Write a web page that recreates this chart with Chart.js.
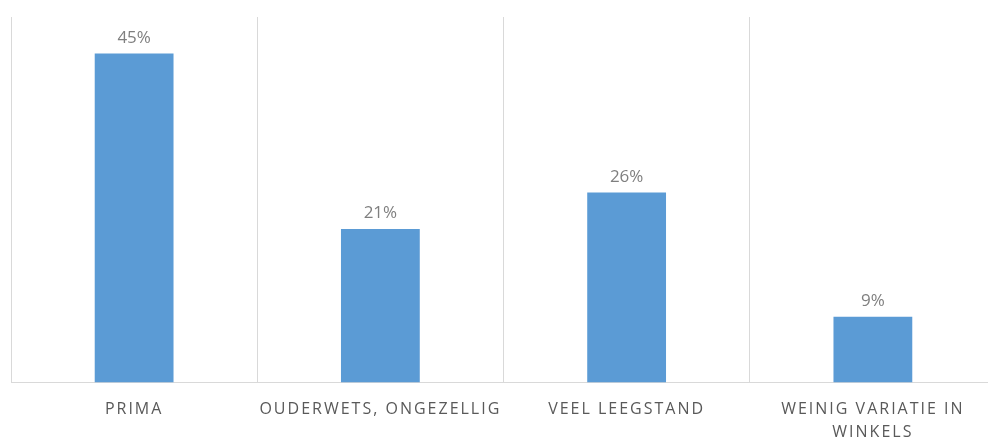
<!DOCTYPE html>
<html>
<head>
<meta charset="utf-8">
<script src="https://cdn.jsdelivr.net/npm/chart.js@4/dist/chart.umd.min.js"></script>
<style>
  html, body { margin: 0; padding: 0; background: #fff; overflow: hidden; }
  #wrap { width: 1000px; height: 459px; position: relative; }
</style>
</head>
<body>
<div id="wrap"><canvas id="c"></canvas></div>
<script>
const categories = ['PRIMA', 'OUDERWETS, ONGEZELLIG', 'VEEL LEEGSTAND', ['WEINIG VARIATIE IN', 'WINKELS']];
const values = [45, 21, 26, 9];
const valueLabels = ['45%', '21%', '26%', '9%'];

const spacingPlugin = {
  id: 'spacing',
  beforeDraw(chart) { chart.ctx.letterSpacing = '2px'; },
  afterDatasetsDraw(chart) {
    const ctx = chart.ctx;
    ctx.save();
    ctx.letterSpacing = '0px';
    ctx.font = '17px "Open Sans"';
    ctx.fillStyle = '#7f7f7f';
    ctx.textAlign = 'center';
    ctx.textBaseline = 'bottom';
    chart.getDatasetMeta(0).data.forEach((bar, i) => {
      ctx.fillText(valueLabels[i], bar.x, bar.y - 7);
    });
    ctx.restore();
  },
  afterDraw(chart) { chart.ctx.letterSpacing = '0px'; }
};

new Chart(document.getElementById('c'), {
  type: 'bar',
  data: {
    labels: categories,
    datasets: [{
      data: values,
      backgroundColor: '#5b9bd5',
      categoryPercentage: 0.32,
      barPercentage: 1.0
    }]
  },
  options: {
    responsive: true,
    maintainAspectRatio: false,
    animation: false,
    layout: { padding: { left: 11, right: 4, top: 17, bottom: 0 } },
    plugins: { legend: { display: false }, tooltip: { enabled: false } },
    scales: {
      x: {
        grid: { display: true, color: '#d9d9d9', drawTicks: false, offset: true },
        border: { display: true, color: '#d9d9d9' },
        ticks: {
          color: '#595959',
          font: { family: '"Open Sans"', size: 16, lineHeight: 1.45 },
          padding: 15,
          maxRotation: 0,
          autoSkip: false
        }
      },
      y: {
        display: false,
        min: 0,
        max: 50
      }
    }
  },
  plugins: [spacingPlugin]
});
</script>
</body>
</html>
